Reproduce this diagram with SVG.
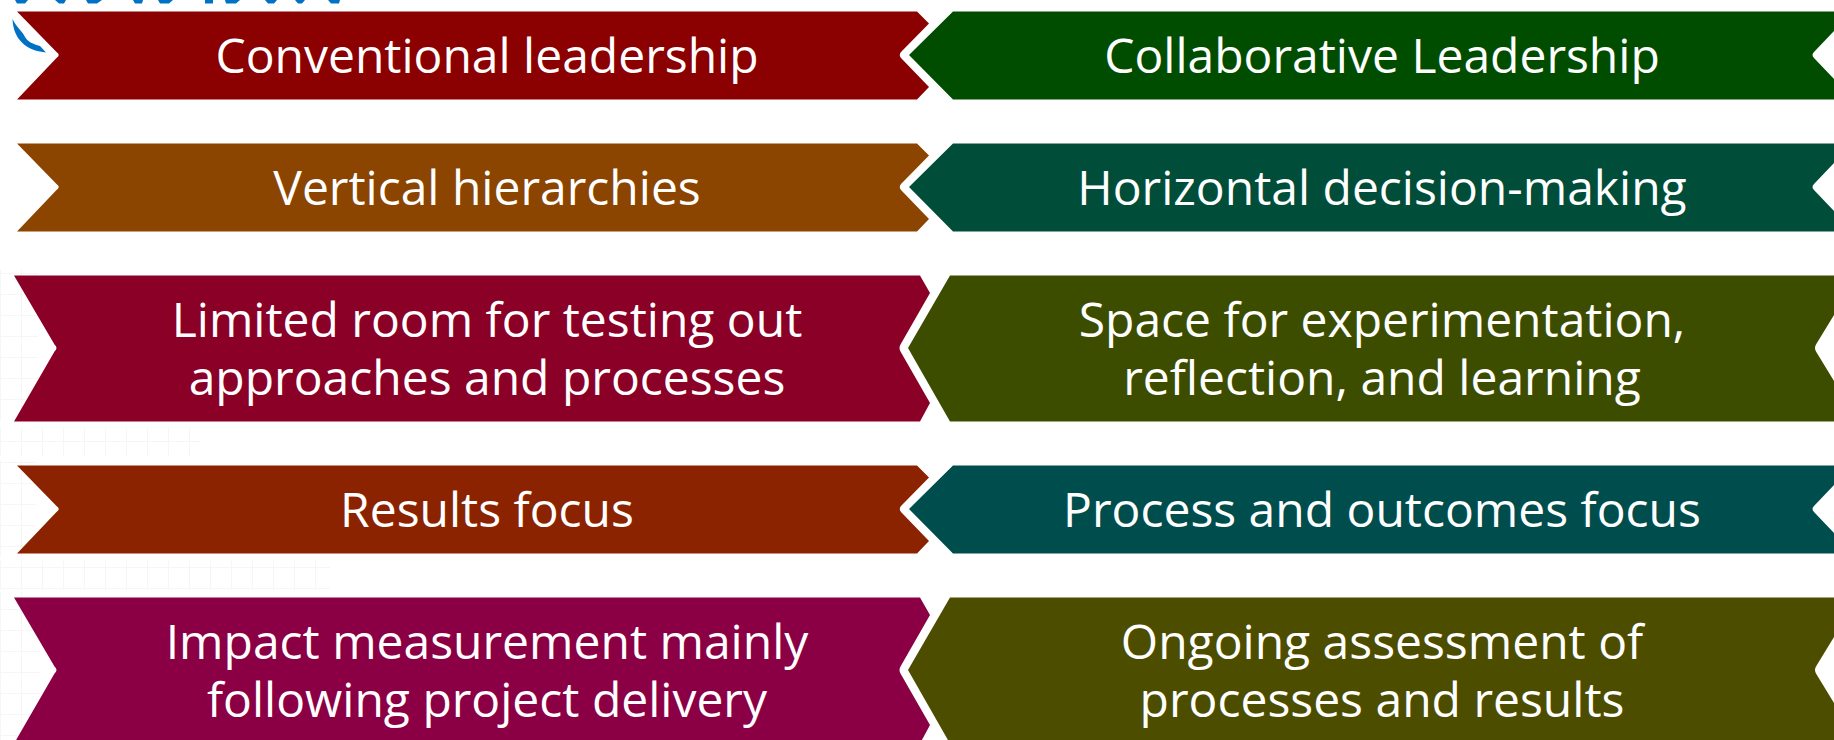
<svg xmlns="http://www.w3.org/2000/svg" width="1834" height="740" viewBox="0 0 1834 740">
<style>
text{font-family:"Open Sans","Liberation Sans",sans-serif;font-size:48px;fill:#fff;text-anchor:middle}
</style>
<defs>
<pattern id="grid" width="21" height="21" patternUnits="userSpaceOnUse"><path d="M0 .5H21M.5 0V21" fill="none" stroke="#f6f6f6"/></pattern>
<path id="lt" d="M17 11.400H917L929 23.500L901 52Q898.500 55 901 58L929 87L917 99.600H17L56.500 58Q61 55 56.500 52Z"/>
<path id="rt" d="M953 11.400H1834V31L1814 52Q1811 55 1814 58L1834 79V99.600H953L909 55Z"/>
<path id="lh" d="M14 .4H920L930 18L900.500 69.500Q898.500 73 900.500 76.500L930 128L920 146.600H14L54.500 76.500Q58.500 73 54.500 69.500Z"/>
<path id="rh" d="M950 .4H1834V40L1816 69.500Q1814 73 1816 76.500L1834 106V146.600H950L908 73Z"/>
</defs>
<rect width="1834" height="740" fill="#fff"/>
<g id="background" fill="url(#grid)">
<rect x="0" y="270" width="38" height="150"/>
<rect x="0" y="428" width="200" height="28"/>
<rect x="0" y="460" width="36" height="96"/>
<rect x="0" y="560" width="330" height="30"/>
<rect x="0" y="592" width="40" height="148"/>
</g>
<g id="logo" fill="#0072c6">
<path d="M12.500 19C13 33 20 50 46 52.500L40 46C33 44 28 42 25 37C23 32 17 28 12.500 19Z"/>
<path d="M15 0H28L25 3.500H17ZM55 0H66L64 3.500H59ZM86 0H102L97 3.500H88ZM133 0H143L142 3.500H135ZM158 0H173L169 3.500H160ZM205 0H213V3.500H205ZM225 0H240L236 3.500H226ZM265 0H277L274 3.500H268ZM295 0H305L302 3.500H298ZM328 0H340L339 3.500H331Z"/>
</g>
<g id="connectors"></g>
<g id="n1"><use href="#lt" fill="#8b0000"/><text x="487" y="73">Conventional leadership</text></g>
<g id="n2"><use href="#rt" fill="#004d00"/><text x="1382" y="73">Collaborative Leadership</text></g>
<g id="n3"><use href="#lt" y="132" fill="#8b4500"/><text x="487" y="205">Vertical hierarchies</text></g>
<g id="n4"><use href="#rt" y="132" fill="#004d3a"/><text x="1382" y="205">Horizontal decision-making</text></g>
<g id="n5"><use href="#lh" y="275" fill="#8b0026"/><text x="487" y="337">Limited room for testing out</text><text x="487" y="395">approaches and processes</text></g>
<g id="n6"><use href="#rh" y="275" fill="#3d4d00"/><text x="1382" y="337">Space for experimentation,</text><text x="1382" y="395">reflection, and learning</text></g>
<g id="n7"><use href="#lt" y="454" fill="#8b2300"/><text x="487" y="527">Results focus</text></g>
<g id="n8"><use href="#rt" y="454" fill="#004d4d"/><text x="1382" y="527">Process and outcomes focus</text></g>
<g id="n9"><use href="#lh" y="597" fill="#8b0045"/><text x="487" y="659">Impact measurement mainly</text><text x="487" y="717">following project delivery</text></g>
<g id="n10"><use href="#rh" y="597" fill="#4d4d00"/><text x="1382" y="659">Ongoing assessment of</text><text x="1382" y="717">processes and results</text></g>
</svg>
